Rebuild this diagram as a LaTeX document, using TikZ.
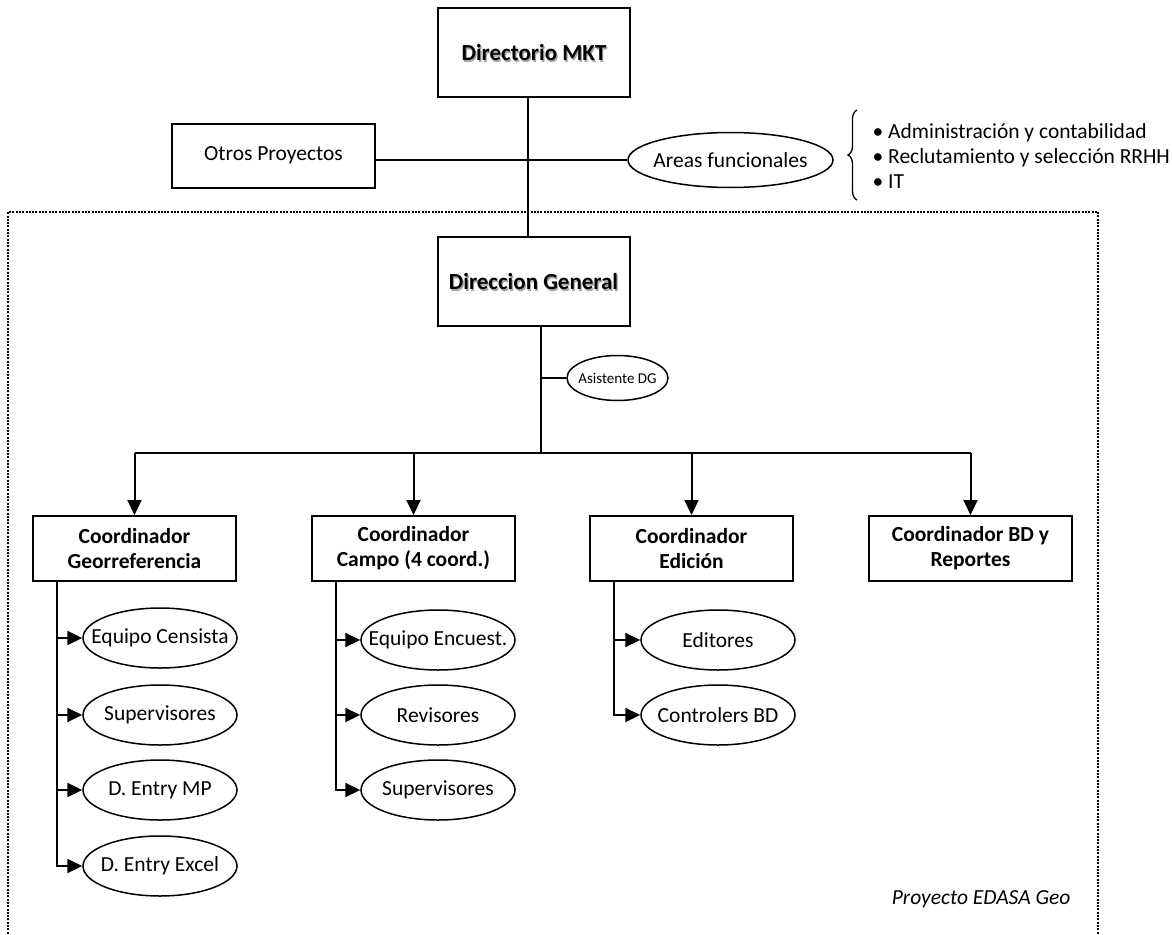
\documentclass[tikz,border=0pt]{standalone}
\usepackage{fontspec}
\setmainfont{Carlito}
\usetikzlibrary{arrows.meta,shapes.geometric,calc,decorations.pathreplacing}
% centred label of zero width, so that an ellipse keeps its given size
\newcommand\ovaltext[1]{\makebox[0pt]{#1}}
% list item with the bullet hanging to the left of the text
\newcommand\itembullet{\makebox[0pt][r]{•\hspace{5pt}}}
\begin{document}
\begin{tikzpicture}[x=1pt,y=-1pt,
  txt/.style={font=\fontsize{21.5}{25}\selectfont},
  box/.style={txt,draw,line width=2pt,rectangle,inner sep=0pt,align=center},
  coordbox/.style={box,minimum width=203pt,minimum height=65pt,font=\fontsize{21.5}{25}\selectfont\bfseries},
  bigbox/.style={box,minimum width=192pt,minimum height=89pt,font=\fontsize{23}{27}\selectfont\bfseries},
  role/.style={txt,draw,line width=1.5pt,ellipse,inner sep=0pt,minimum width=154pt,minimum height=60pt},
  link/.style={line width=2pt},
  arr/.style={line width=2pt,-{Triangle[length=15pt,width=14pt]}},
  shade/.style={text=black!35,font=\fontsize{23}{27}\selectfont\bfseries},
  frame/.style={line width=2pt,dash pattern=on 2pt off 1.3pt}
]
\useasboundingbox (0,0) rectangle (1172,934);

% project frame (runs off the bottom edge)
\draw[frame] (8,960) -- (8,212) -- (1098,212) -- (1098,960);

% top level
\node[shade] at (535.2,54.2) {Directorio MKT};
\node[bigbox] (mkt) at (534,52.5) {Directorio MKT};
\node[box,minimum width=203pt,minimum height=64pt] (otros) at (273.5,155.5) {Otros Proyectos};
\node[role,minimum width=205pt,minimum height=55pt] (areas) at (730.5,160) {\ovaltext{Areas funcionales}};

% functional areas list
\draw[line width=1.3pt,decorate,decoration={brace,amplitude=9pt}] (857,200) -- (857,110) coordinate (braceTop);
\node[txt,anchor=west,align=left,inner sep=0pt] (list) at (888,156) {\itembullet Administración y contabilidad\\\itembullet Reclutamiento y selección RRHH\\\itembullet IT};

% general direction
\node[shade] at (534.7,283.2) {Direccion General};
\node[bigbox] (dg) at (533.5,281.5) {Direccion General};
\node[role,font=\fontsize{15}{18}\selectfont,minimum width=101pt,minimum height=45pt] (asis) at (617.5,378) {\ovaltext{Asistente DG}};

\coordinate (mktDown) at ($(mkt.south)+(-6,0)$);
\coordinate (dgUp) at (mktDown |- dg.north);
\draw[link] (mktDown) -- (dgUp);
\draw[link] (otros.east |- areas.west) -- (areas.west);

\coordinate (dgDown) at ($(dg.south)+(7.5,0)$);
\coordinate (bus) at (dgDown |- 0,453);
\draw[link] (dgDown) -- (bus);
\draw[link] (dgDown |- asis.west) -- (asis.west);

% coordinators
\node[coordbox] (cg) at (134.5,548.5) {Coordinador\\Georreferencia};
\node[coordbox] (cc) at (413.5,548.5) {Coordinador\\Campo (4 coord.)};
\node[coordbox] (ce) at (691.5,548.5) {Coordinador\\Edición};
\node[coordbox] (cb) at (970.5,548.5) {Coordinador BD y\\Reportes};

\draw[link] (cg.north |- bus) -- (cb.north |- bus);
\foreach \c in {cg,cc,ce,cb}
  \draw[arr] (\c.north |- bus) -- (\c.north);

% teams under each coordinator
\node[role] (g1) at (160,638) {\ovaltext{Equipo Censista}};
\node[role] (g2) at (160,715) {\ovaltext{Supervisores}};
\node[role] (g3) at (160,790) {\ovaltext{D. Entry MP}};
\node[role] (g4) at (160,866) {\ovaltext{D. Entry Excel}};

\node[role] (c1) at (438,640) {\ovaltext{Equipo Encuest.}};
\node[role] (c2) at (438,715) {\ovaltext{Revisores}};
\node[role] (c3) at (438,790) {\ovaltext{Supervisores}};

\node[role] (e1) at (718,640) {\ovaltext{Editores}};
\node[role] (e2) at (718,715) {\ovaltext{Controlers BD}};

\foreach \b/\list in {cg/{g1,g2,g3,g4},cc/{c1,c2,c3},ce/{e1,e2}}
  \foreach \t in \list
    \draw[arr] ($(\b.south west)+(25,0)$) |- (\t.west);

\node[txt,font=\fontsize{21.5}{25}\selectfont\itshape,anchor=base east] (proj) at (1074,904) {Proyecto EDASA Geo};
\end{tikzpicture}
\end{document}
